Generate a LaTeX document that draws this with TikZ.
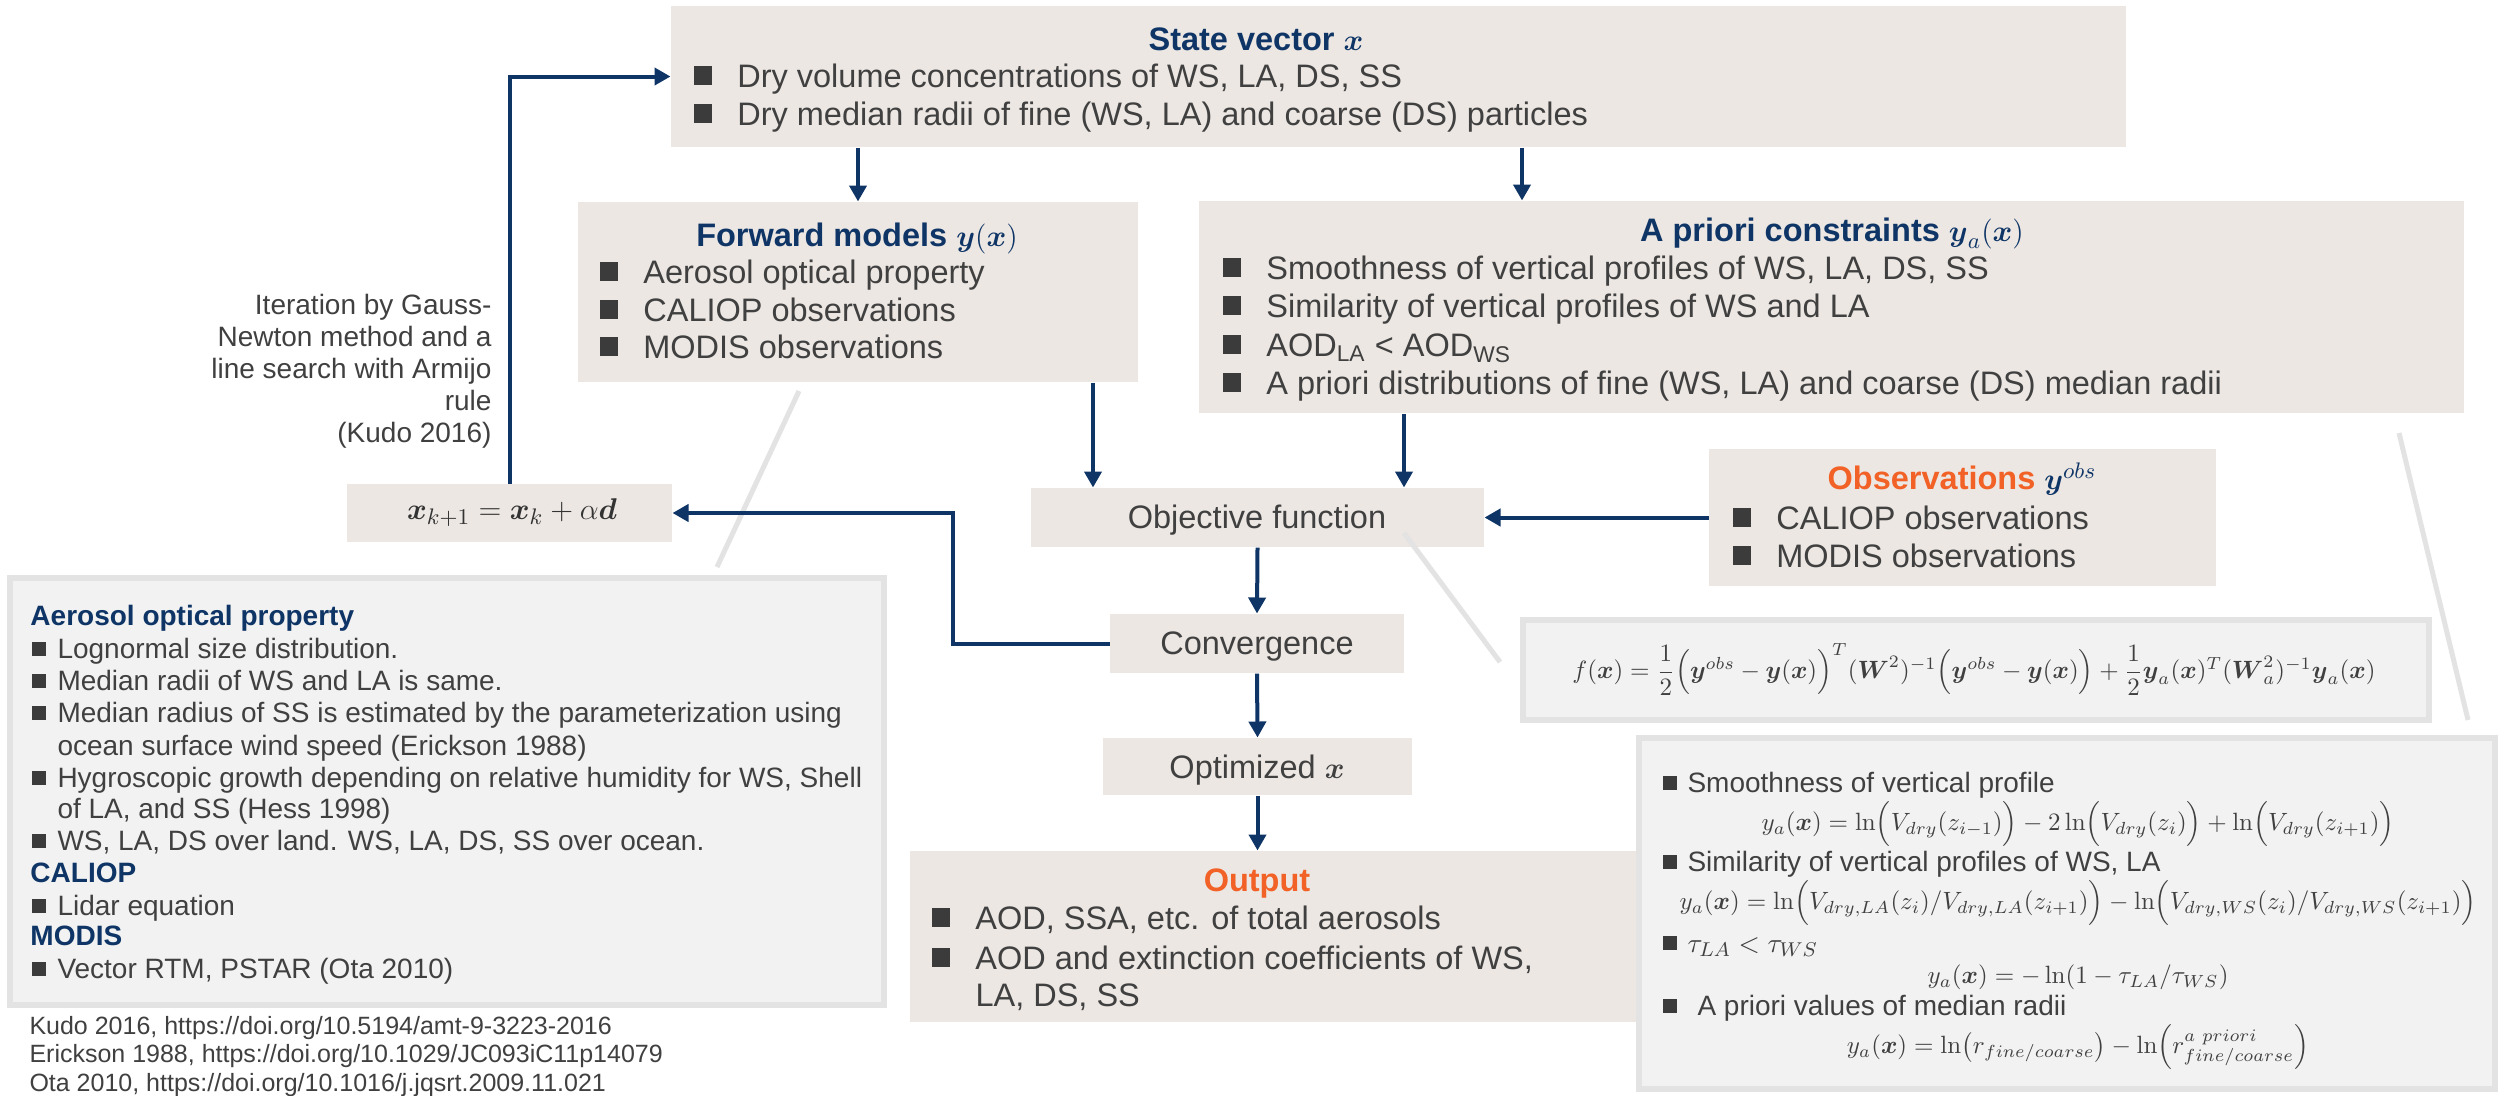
\documentclass[tikz,border=0pt]{standalone}
\usepackage{amsmath}
\usepackage[no-math]{fontspec}
\setmainfont{Liberation Sans}
\usetikzlibrary{arrows.meta,fit}
\definecolor{mynavy}{HTML}{0E3566}
\definecolor{orng}{HTML}{F26126}
\definecolor{boxfill}{HTML}{ECE7E3}
\definecolor{panelfill}{HTML}{F2F2F2}
\definecolor{panelline}{HTML}{E3E3E3}
\definecolor{txtgray}{HTML}{404040}
\definecolor{bulgray}{HTML}{3B3B3B}
\newcommand{\fmain}{\fontsize{13pt}{15.6pt}\selectfont}
\newcommand{\fsec}{\fontsize{11.2pt}{13.4pt}\selectfont}
\newcommand{\fntref}{\fontsize{10pt}{12pt}\selectfont}
\newcommand{\feq}{\fontsize{10.4pt}{12.4pt}\selectfont}
\newcommand{\bsq}{{\color{bulgray}\raisebox{0.08em}{\rule{0.58em}{0.58em}}}\hspace{10pt}}
\newcommand{\bsqs}{{\color{bulgray}\raisebox{0.08em}{\rule{0.5em}{0.5em}}}\hspace{4.4pt}}
\tikzset{
 bx/.style={fill=boxfill, draw=none, inner sep=0pt},
 panel/.style={fill=panelfill, draw=panelline, line width=2.4pt, inner sep=0pt},
 tm/.style={anchor=west, inner sep=0pt, font=\fmain, text=txtgray, text height=9.3pt, text depth=0pt},
 ts/.style={anchor=west, inner sep=0pt, font=\fsec, text=txtgray, text height=8pt, text depth=0pt},
 tr/.style={anchor=west, inner sep=0pt, font=\fntref, text=txtgray, text height=7.2pt, text depth=0pt},
 ttl/.style={anchor=center, inner sep=0pt, font=\fmain\bfseries, text=mynavy, text height=9.3pt, text depth=0pt},
 tsb/.style={ts, font=\fsec\bfseries, text=mynavy},
 tc/.style={anchor=center, inner sep=0pt, font=\fmain, text=txtgray, text height=9.3pt, text depth=0pt},
 arr/.style={draw=mynavy, line width=1.6pt, -{Triangle[length=6.4pt,width=6.8pt]}},
 call/.style={draw=panelline, line width=2pt},
 eq/.style={anchor=center, inner sep=0pt, text=txtgray, text height=6pt, text depth=1pt}
}
\begin{document}
\begin{tikzpicture}[x=0.4pt,y=-0.4pt]
\useasboundingbox (0,0) rectangle (2504,1095);
\fill[white] (0,0) rectangle (2504,1095);
% boxes
\node[bx, fit={(671,6)(2126,147)}] (state) {};
\node[bx, fit={(578,202)(1138,382)}] (fwd) {};
\node[bx, fit={(1199,201)(2464,413)}] (apr) {};
\node[bx, fit={(1709,449)(2216,586)}] (obs) {};
\node[bx, fit={(1031,488)(1484,547)}] (obj) {};
\node[bx, fit={(1110,614)(1404,673)}] (conv) {};
\node[bx, fit={(1103,738)(1412,795)}] (opt) {};
\node[bx, fit={(910,851)(1645,1022)}] (out) {};
\node[bx, fit={(347,484)(672,542)}] (xk) {};
\node[panel, fit={(10,578)(884,1005)}] (lpanel) {};
\node[panel, fit={(1523,620)(2429,720)}] (fpanel) {};
\node[panel, fit={(1639,738)(2495,1089)}] (rpanel) {};
% callout lines
\coordinate (c1a) at (799,391); \coordinate (c1b) at (717,567);
\coordinate (c2a) at (1404,533); \coordinate (c2b) at (1500,662);
\coordinate (c3a) at (2399,433); \coordinate (c3b) at (2468,720);
\draw[call] (c1a) -- (c1b);
\draw[call] (c2a) -- (c2b);
\draw[call] (c3a) -- (c3b);
% state vector
\node[ttl] (stt) at (1256,39) {State vector $\boldsymbol{x}$};
\node[tm] (s1) at (693,76) {\bsq Dry volume concentrations of WS, LA, DS, SS};
\node[tm] (s2) at (693,114) {\bsq Dry median radii of fine (WS, LA) and coarse (DS) particles};
% forward
\node[ttl] (fwt) at (857,235) {Forward models $\boldsymbol{y}(\boldsymbol{x})$};
\node[tm] (f1) at (599,272) {\bsq Aerosol optical property};
\node[tm] (f2) at (599,310) {\bsq CALIOP observations};
\node[tm] (f3) at (599,347) {\bsq MODIS observations};
% a priori
\node[ttl] (apt) at (1832,230) {A priori constraints $\boldsymbol{y}_a(\boldsymbol{x})$};
\node[tm] (a1) at (1222,268) {\bsq Smoothness of vertical profiles of WS, LA, DS, SS};
\node[tm] (a2) at (1222,306) {\bsq Similarity of vertical profiles of WS and LA};
\node[tm] (a3) at (1222,345) {\bsq AOD\textsubscript{LA} < AOD\textsubscript{WS}};
\node[tm] (a4) at (1222,383) {\bsq A priori distributions of fine (WS, LA) and coarse (DS) median radii};
% observations
\node[ttl] (obt) at (1962,478) {\textcolor{orng}{Observations} $\boldsymbol{y}^{obs}$};
\node[tm] (o1) at (1732,518) {\bsq CALIOP observations};
\node[tm] (o2) at (1732,556) {\bsq MODIS observations};
% centre column
\node[tc] (objt) at (1257,517) {Objective function};
\node[tc] (convt) at (1257,643) {Convergence};
\node[tc] (optt) at (1257,767) {Optimized $\boldsymbol{x}$};
\node[ttl, text=orng] (outt) at (1257,880) {Output};
\node[tm] (u1) at (931,918) {\bsq AOD, SSA, etc. of total aerosols};
\node[tm] (u2) at (931,958) {\bsq AOD and extinction coefficients of WS,};
\node[tm] (u3) at (975,995) {LA, DS, SS};
% update
\node[eq, font=\fontsize{12.5pt}{15pt}\selectfont, text=black!80] (xkt) at (512,513) {$\boldsymbol{x}_{k+1}=\boldsymbol{x}_k+\alpha\boldsymbol{d}$};
\node[ts, anchor=east] (it1) at (492,304) {Iteration by Gauss-};
\node[ts, anchor=east] (it2) at (492,336) {Newton method and a};
\node[ts, anchor=east] (it3) at (492,368) {line search with Armijo};
\node[ts, anchor=east] (it4) at (492,400) {rule};
\node[ts, anchor=east] (it5) at (492,432) {(Kudo 2016)};
% left panel
\node[tsb] (l0) at (30,615) {Aerosol optical property};
\node[ts] (l1) at (32,648) {\bsqs Lognormal size distribution.};
\node[ts] (l2) at (32,680) {\bsqs Median radii of WS and LA is same.};
\node[ts] (l3) at (32,712) {\bsqs Median radius of SS is estimated by the parameterization using};
\node[ts] (l4) at (57,745) {ocean surface wind speed (Erickson 1988)};
\node[ts] (l5) at (32,777) {\bsqs Hygroscopic growth depending on relative humidity for WS, Shell};
\node[ts] (l6) at (57,808) {of LA, and SS (Hess 1998)};
\node[ts] (l7) at (32,840) {\bsqs WS, LA, DS over land. WS, LA, DS, SS over ocean.};
\node[tsb] (l8) at (30,872) {CALIOP};
\node[ts] (l9) at (32,905) {\bsqs Lidar equation};
\node[tsb] (l10) at (30,935) {MODIS};
\node[ts] (l11) at (32,968) {\bsqs Vector RTM, PSTAR (Ota 2010)};
% references
\node[tr] (r1) at (29,1025) {Kudo 2016, https://doi.org/10.5194/amt-9-3223-2016};
\node[tr] (r2) at (29,1053) {Erickson 1988, https://doi.org/10.1029/JC093iC11p14079};
\node[tr] (r3) at (29,1082) {Ota 2010, https://doi.org/10.1016/j.jqsrt.2009.11.021};
% objective formula
\node[eq, font=\fontsize{10.3pt}{12.5pt}\selectfont] (fx) at (1974,672) {$f(\boldsymbol{x})=\dfrac{1}{2}\Bigl(\boldsymbol{y}^{obs}-\boldsymbol{y}(\boldsymbol{x})\Bigr)^{T}(\boldsymbol{W}^2)^{-1}\Bigl(\boldsymbol{y}^{obs}-\boldsymbol{y}(\boldsymbol{x})\Bigr)+\dfrac{1}{2}\boldsymbol{y}_a(\boldsymbol{x})^{T}(\boldsymbol{W}_a^2)^{-1}\boldsymbol{y}_a(\boldsymbol{x})$};
% right panel
\node[ts] (p1) at (1662,782) {\bsqs Smoothness of vertical profile};
\node[eq, font=\feq] (e1) at (2078,824) {$y_a(\boldsymbol{x})=\ln\Bigl(V_{dry}(z_{i-1})\Bigr)-2\ln\Bigl(V_{dry}(z_i)\Bigr)+\ln\Bigl(V_{dry}(z_{i+1})\Bigr)$};
\node[ts] (p2) at (1662,861) {\bsqs Similarity of vertical profiles of WS, LA};
\node[eq, font=\feq] (e2) at (2078,903) {$y_a(\boldsymbol{x})=\ln\Bigl(V_{dry,LA}(z_i)/V_{dry,LA}(z_{i+1})\Bigr)-\ln\Bigl(V_{dry,WS}(z_i)/V_{dry,WS}(z_{i+1})\Bigr)$};
\node[ts] (p3) at (1662,942) {\bsqs $\tau_{LA}<\tau_{WS}$};
\node[eq, font=\feq] (e3) at (2078,977) {$y_a(\boldsymbol{x})=-\ln(1-\tau_{LA}/\tau_{WS})$};
\node[ts] (p4) at (1662,1005) {\bsqs\hspace{4pt}A priori values of median radii};
\node[eq, font=\feq] (e4) at (2078,1047) {$y_a(\boldsymbol{x})=\ln\bigl(r_{fine/coarse}\bigr)-\ln\Bigl(r_{fine/coarse}^{a\ priori}\Bigr)$};
% connectors
\coordinate (ax) at (1522,0);
\coordinate (fx1) at (1093,0);
\coordinate (px) at (1404,0);
\coordinate (fbx) at (953,0);
\draw[arr] (state.south -| fwd.north) -- (fwd.north);
\draw[arr] (state.south -| ax) -- (apr.north -| ax);
\draw[arr] (fwd.south -| fx1) -- (obj.north -| fx1);
\draw[arr] (apr.south -| px) -- (obj.north -| px);
\draw[arr] (obs.west) -- (obj.east);
\draw[arr] (obj.south) -- (conv.north);
\draw[arr] (conv.south) -- (opt.north);
\draw[arr] (opt.south) -- (opt.south |- out.north);
\draw[arr] (conv.west) -- (conv.west -| fbx) |- (xk.east);
\draw[arr] (xk.north) |- (state.west);
\end{tikzpicture}
\end{document}
